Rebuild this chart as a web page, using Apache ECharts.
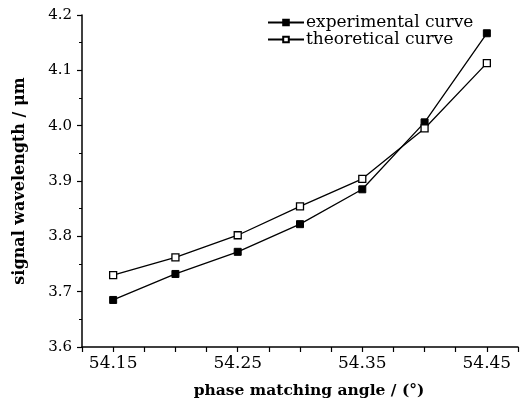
<!DOCTYPE html>
<html>
<head>
<meta charset="utf-8">
<script src="https://cdn.jsdelivr.net/npm/echarts@6/dist/echarts.min.js"></script>
<style>
  html, body { margin: 0; padding: 0; background: #fff; }
  #chart { width: 522px; height: 408px; }
</style>
</head>
<body>
<div id="chart"></div>
<script>
const angles = [54.15, 54.20, 54.25, 54.30, 54.35, 54.40, 54.45]
const experimental = [3.685, 3.732, 3.772, 3.822, 3.885, 4.006, 4.167]
const theoretical = [3.730, 3.762, 3.802, 3.854, 3.904, 3.995, 4.113]
const xLabels = [54.15, 54.25, 54.35, 54.45]

const font = '"DejaVu Serif", "Liberation Serif", serif'
const chart = echarts.init(document.getElementById('chart'))

chart.setOption({
  backgroundColor: '#fff',
  animation: false,
  textStyle: { fontFamily: font, color: '#000' },
  grid: { left: 82, right: 4, top: 15, bottom: 61 },
  legend: {
    left: 262,
    top: 9,
    orient: 'vertical',
    itemGap: 0,
    itemWidth: 36,
    itemHeight: 7,
    textStyle: { fontFamily: font, fontSize: 17, color: '#000', padding: [0, 0, 0, -3] },
    data: ['experimental curve', 'theoretical curve'],
  },
  xAxis: {
    type: 'value',
    min: 54.125,
    max: 54.475,
    interval: 0.025,
    name: 'phase matching angle / (°)',
    nameLocation: 'middle',
    nameGap: 36,
    nameTextStyle: { fontFamily: font, fontSize: 15.5, fontWeight: 'bold', color: '#000', padding: [0, 0, 0, 18] },
    axisLine: { lineStyle: { color: '#000', width: 1.5 } },
    axisTick: { length: 5, lineStyle: { color: '#000', width: 1.2 } },
    axisLabel: {
      color: '#000',
      fontSize: 17,
      fontFamily: font,
      margin: 8,
      showMinLabel: true,
      showMaxLabel: true,
      formatter: v => {
        const hit = xLabels.find(l => Math.abs(l - v) < 1e-6)
        return hit !== undefined ? hit.toFixed(2) : ''
      },
    },
    splitLine: { show: false },
  },
  yAxis: {
    type: 'value',
    min: 3.6,
    max: 4.2,
    interval: 0.1,
    name: 'signal wavelength / μm',
    nameLocation: 'middle',
    nameGap: 54,
    nameTextStyle: { fontFamily: font, fontSize: 16, fontWeight: 'bold', color: '#000' },
    axisLine: { show: true, lineStyle: { color: '#000', width: 1.5 } },
    axisTick: { show: true, length: 5, lineStyle: { color: '#000', width: 1.2 } },
    minorTick: { show: true, splitNumber: 2, length: 3, lineStyle: { color: '#000', width: 1 } },
    axisLabel: {
      color: '#000',
      fontSize: 15,
      fontFamily: font,
      margin: 10,
      formatter: v => v.toFixed(1),
    },
    splitLine: { show: false },
  },
  series: [
    {
      name: 'experimental curve',
      type: 'line',
      data: angles.map((a, i) => [a, experimental[i]]),
      symbol: 'rect',
      symbolSize: 7,
      lineStyle: { color: '#000', width: 1.3 },
      itemStyle: { color: '#000', borderColor: '#000', borderWidth: 1 },
    },
    {
      name: 'theoretical curve',
      type: 'line',
      data: angles.map((a, i) => [a, theoretical[i]]),
      symbol: 'rect',
      symbolSize: 7,
      showAllSymbol: true,
      lineStyle: { color: '#000', width: 1.3 },
      itemStyle: { color: '#fff', borderColor: '#000', borderWidth: 1.3 },
    },
  ],
})
</script>
</body>
</html>
